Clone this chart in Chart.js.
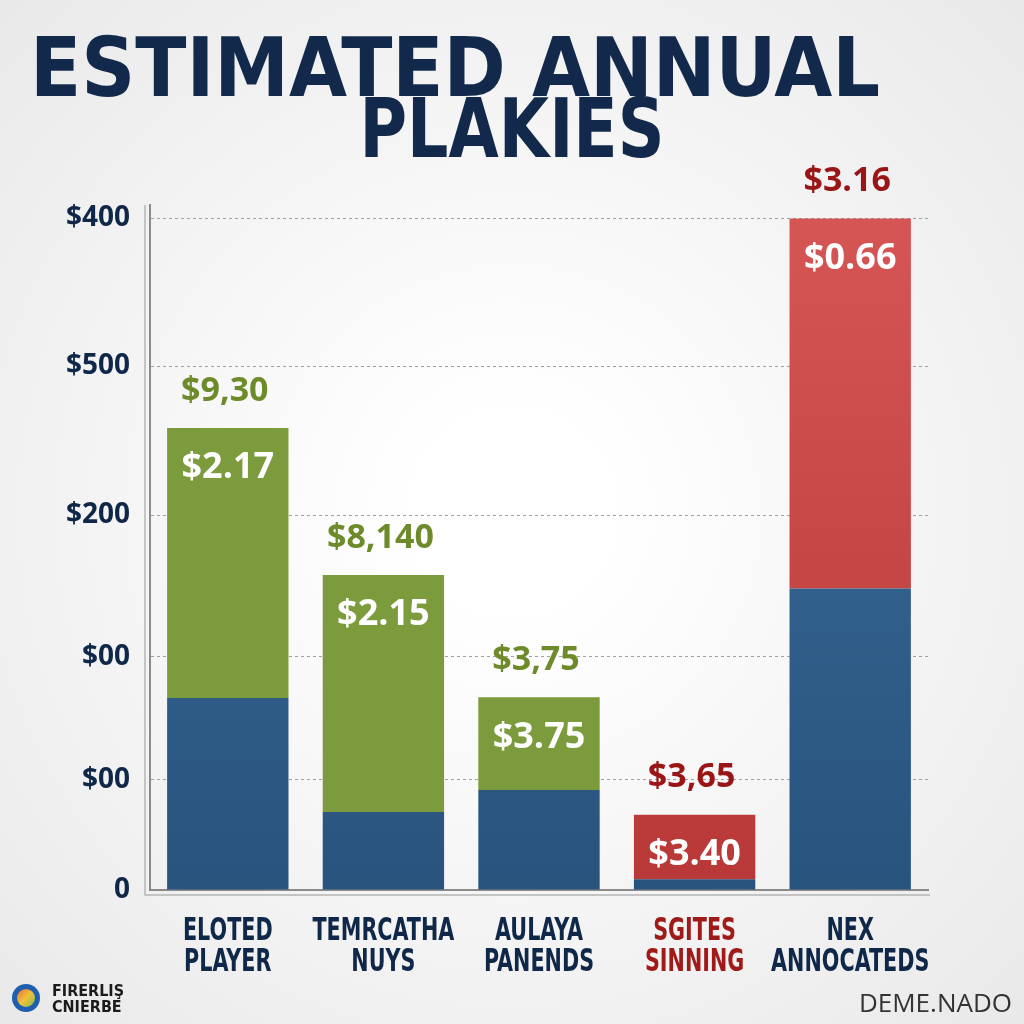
<!DOCTYPE html>
<html>
<head>
<meta charset="utf-8">
<script src="https://cdn.jsdelivr.net/npm/chart.js@4.4.1/dist/chart.umd.min.js"></script>
<style>
  html, body { margin: 0; padding: 0; background: #f4f4f4; }
  #wrap { width: 1024px; height: 1024px; }
</style>
</head>
<body>
<div id="wrap"><canvas id="annualChart" width="1024" height="1024"></canvas></div>
<script>
// chart data
const categories = [
    ['ELOTED', 'PLAYER'],
    ['TEMRCATHA', 'NUYS'],
    ['AULAYA', 'PANENDS'],
    ['SGITES', 'SINNING'],
    ['NEX', 'ANNOCATEDS']
];
const baseValues = [28.6, 11.6, 14.9, 1.6, 44.9];
const greenValues = [40.2, 35.3, 13.8, 0, 0];
const redValues = [0, 0, 0, 9.6, 55.1];
const innerLabels = ['$2.17', '$2.15', '$3.75', '$3.40', '$0.66'];
const topLabels = ['$9,30', '$8,140', '$3,75', '$3,65', '$3.16'];
const tickValues = [0, 16.4, 34.7, 55.8, 78.0, 100];
const tickLabels = ['0', '$00', '$00', '$200', '$500', '$400'];
const titleLines = ['ESTIMATED ANNUAL', 'PLAKIES'];

const NAVY = '#0f2748';
const GREEN_TEXT = '#6e8b2b';
const RED_TEXT = '#9a1616';
const CONDENSED = '"Liberation Sans Narrow", "DejaVu Sans Condensed", sans-serif';

const blueFill = (ctx) => {
    const area = ctx.chart.chartArea;
    if (!area) return '#30608c';
    const g = ctx.chart.ctx.createLinearGradient(0, area.top, 0, area.bottom);
    g.addColorStop(0, '#3c709e');
    g.addColorStop(1, '#28537d');
    return g;
};

const redFill = (ctx) => {
    const area = ctx.chart.chartArea;
    if (!area) return '#c84444';
    const g = ctx.chart.ctx.createLinearGradient(0, area.top, 0, area.bottom);
    g.addColorStop(0, '#d65555');
    g.addColorStop(1, '#b83838');
    return g;
};

// squeeze text horizontally so it fills a given width
const fitText = (ctx, text, cx, y, width) => {
    const w = ctx.measureText(text).width;
    ctx.save();
    ctx.translate(cx, y);
    ctx.scale(width / w, 1);
    ctx.textAlign = 'center';
    ctx.fillText(text, 0, 0);
    ctx.restore();
};

const squeezeText = (ctx, text, cx, y, factor) => {
    ctx.save();
    ctx.translate(cx, y);
    ctx.scale(factor, 1);
    ctx.textAlign = 'center';
    ctx.fillText(text, 0, 0);
    ctx.restore();
};

const backdrop = {
    id: 'backdrop',
    beforeDraw(chart) {
        const { ctx, width, height } = chart;
        const g = ctx.createRadialGradient(width / 2, height / 2, 100, width / 2, height / 2, 720);
        g.addColorStop(0, '#ffffff');
        g.addColorStop(1, '#e9e9e9');
        ctx.save();
        ctx.fillStyle = g;
        ctx.fillRect(0, 0, width, height);
        ctx.restore();
    }
};

// category names, narrowed like the original lettering
const xLabels = {
    id: 'xLabels',
    afterDraw(chart) {
        const { ctx } = chart;
        const xScale = chart.scales.x;
        ctx.save();
        ctx.font = 'bold 32px ' + CONDENSED;
        ctx.textBaseline = 'alphabetic';
        categories.forEach((lines, i) => {
            const x = xScale.getPixelForValue(i);
            ctx.fillStyle = i === 3 ? '#a01a1a' : NAVY;
            lines.forEach((line, j) => {
                squeezeText(ctx, line, x, 940 + j * 31, 0.72);
            });
        });
        ctx.restore();
    }
};

const decorations = {
    id: 'decorations',
    afterDraw(chart) {
        const { ctx, chartArea } = chart;
        ctx.save();

        // title
        ctx.fillStyle = '#13294b';
        ctx.textBaseline = 'alphabetic';
        ctx.font = 'bold 82px "DejaVu Sans", sans-serif';
        fitText(ctx, titleLines[0], 455, 96, 850);
        fitText(ctx, titleLines[1], 512, 157, 305);

        // second, lighter frame line
        ctx.strokeStyle = '#b5b5b5';
        ctx.lineWidth = 1.5;
        ctx.beginPath();
        ctx.moveTo(chartArea.left - 5, chartArea.top);
        ctx.lineTo(chartArea.left - 5, chartArea.bottom + 5);
        ctx.lineTo(chartArea.right + 2, chartArea.bottom + 5);
        ctx.stroke();

        // logo bottom left
        const lg = ctx.createLinearGradient(14, 986, 38, 1010);
        lg.addColorStop(0, '#e8503a');
        lg.addColorStop(0.5, '#f0c23a');
        lg.addColorStop(1, '#5fb85a');
        ctx.fillStyle = '#1f5fb0';
        ctx.beginPath();
        ctx.arc(26, 998, 14, 0, Math.PI * 2);
        ctx.fill();
        ctx.fillStyle = lg;
        ctx.beginPath();
        ctx.arc(26, 998, 9, 0, Math.PI * 2);
        ctx.fill();
        ctx.fillStyle = '#1b1b1b';
        ctx.font = 'bold 16px ' + CONDENSED;
        ctx.textAlign = 'left';
        ctx.fillText('FIRERLIŞ', 52, 996);
        ctx.fillText('CNIERBE', 52, 1012);

        // signature bottom right
        ctx.fillStyle = '#333333';
        ctx.font = '26px "Open Sans", sans-serif';
        ctx.textAlign = 'right';
        ctx.fillText('DEME.NADO', 1012, 1012);

        ctx.restore();
    }
};

const barLabels = {
    id: 'barLabels',
    afterDatasetsDraw(chart) {
        const { ctx } = chart;
        const greenMeta = chart.getDatasetMeta(1);
        const redMeta = chart.getDatasetMeta(2);
        ctx.save();
        ctx.textAlign = 'center';
        ctx.textBaseline = 'middle';
        categories.forEach((c, i) => {
            const isGreen = greenValues[i] > 0;
            const bar = isGreen ? greenMeta.data[i] : redMeta.data[i];
            ctx.font = 'bold 36px "Open Sans", sans-serif';
            ctx.fillStyle = '#ffffff';
            ctx.fillText(innerLabels[i], bar.x, bar.y + 40);
            ctx.font = 'bold 34px "Open Sans", sans-serif';
            ctx.fillStyle = isGreen ? GREEN_TEXT : RED_TEXT;
            ctx.fillText(topLabels[i], bar.x - 3, bar.y - 37);
        });
        ctx.restore();
    }
};

const ctx = document.getElementById('annualChart').getContext('2d');
new Chart(ctx, {
    type: 'bar',
    data: {
        labels: categories,
        datasets: [
            { label: 'Base', data: baseValues, backgroundColor: blueFill },
            { label: 'Green', data: greenValues, backgroundColor: '#7c9b3c' },
            { label: 'Red', data: redValues, backgroundColor: redFill }
        ]
    },
    options: {
        responsive: false,
        animation: false,
        categoryPercentage: 0.78,
        barPercentage: 1,
        layout: { padding: { top: 205, right: 96, left: 0, bottom: 0 } },
        plugins: {
            legend: { display: false },
            tooltip: { enabled: false }
        },
        scales: {
            x: {
                stacked: true,
                grid: { display: false },
                border: { color: '#8a8a8a', width: 2 },
                ticks: { display: false },
                afterFit: (scale) => { scale.height = 134; }
            },
            y: {
                stacked: true,
                min: 0,
                max: 102,
                afterBuildTicks: (scale) => {
                    scale.ticks = tickValues.map(v => ({ value: v }));
                },
                afterFit: (scale) => { scale.width = 150; },
                grid: {
                    color: '#a0a0a0',
                    lineWidth: 1,
                    drawTicks: false
                },
                border: { color: '#8a8a8a', width: 2, dash: [3, 3] },
                ticks: {
                    padding: 20,
                    color: NAVY,
                    font: { family: '"Open Sans", sans-serif', size: 28, weight: 'bold' },
                    callback: (value, index) => tickLabels[index]
                }
            }
        }
    },
    plugins: [backdrop, barLabels, xLabels, decorations]
});
</script>
</body>
</html>
